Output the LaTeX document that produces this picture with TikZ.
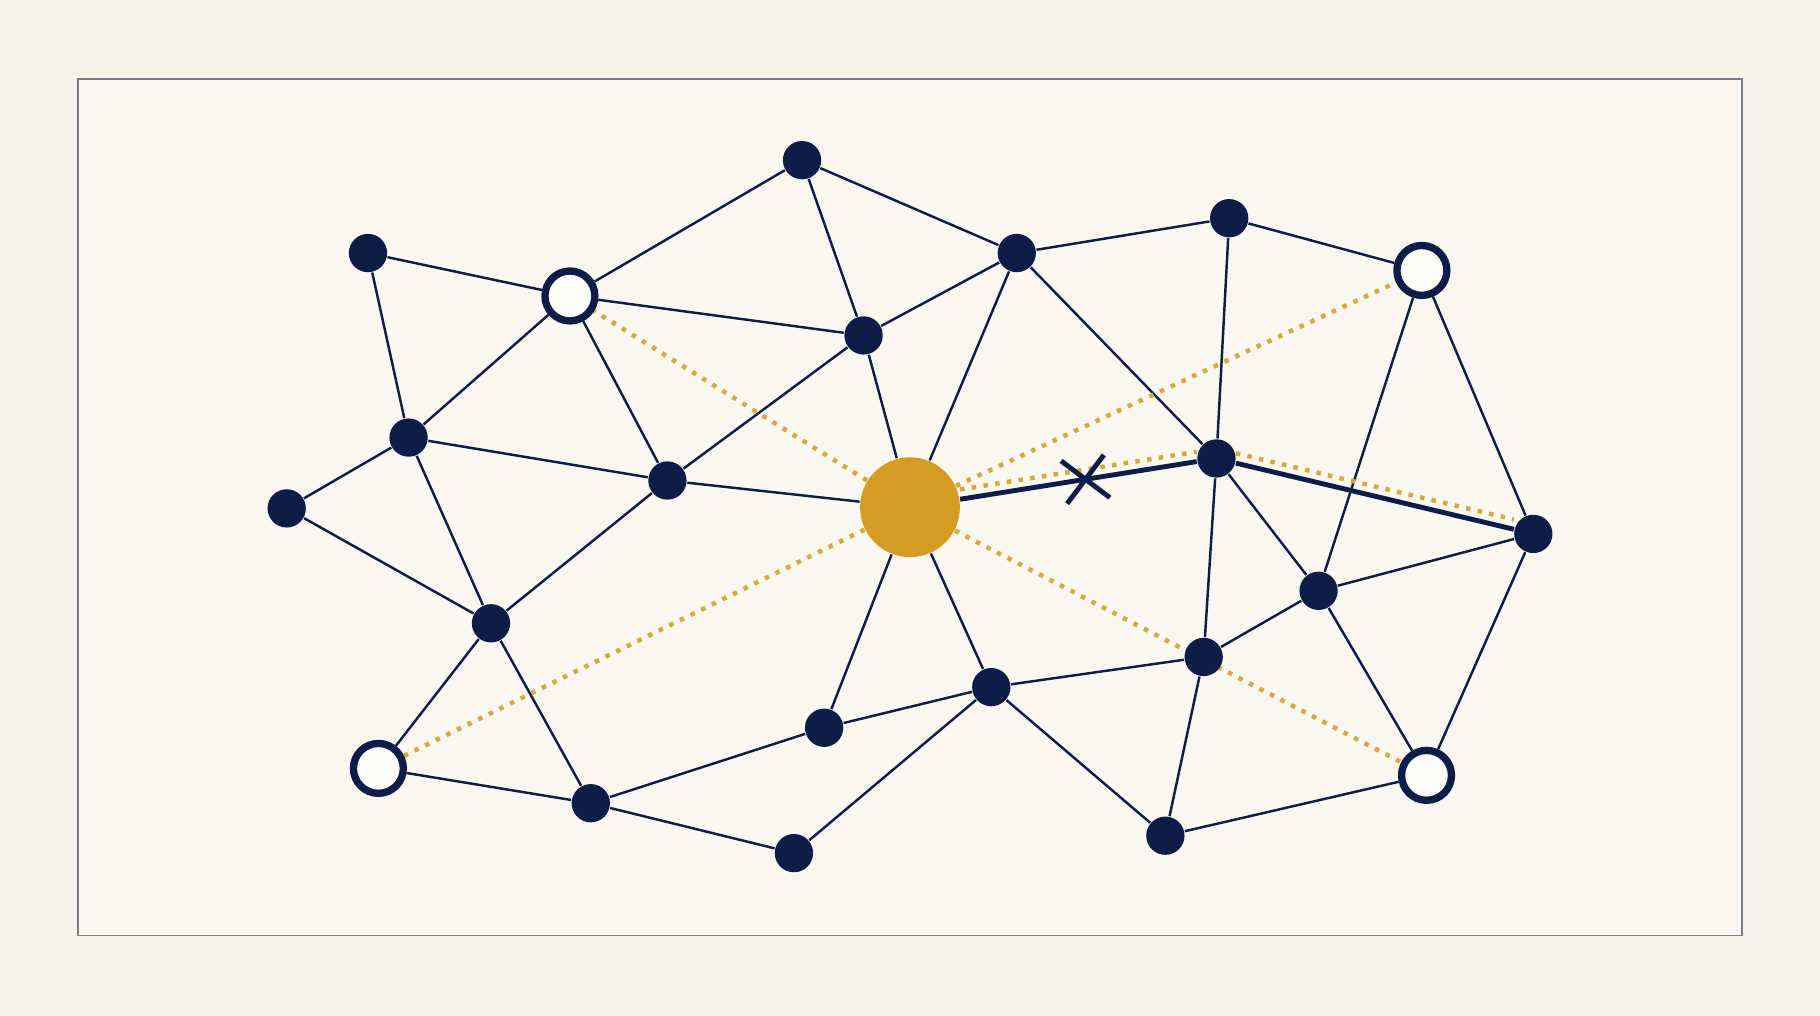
\documentclass[tikz,border=0pt]{standalone}
\usetikzlibrary{shapes.misc}
\definecolor{netnavy}{RGB}{14,28,72}
\definecolor{netgold}{RGB}{214,155,35}
\definecolor{netdot}{RGB}{218,167,60}
\definecolor{netpaper}{RGB}{247,243,234}
\definecolor{netpanel}{RGB}{250,247,240}
\definecolor{netframe}{RGB}{120,126,136}
\pgfdeclarelayer{paper}
\pgfdeclarelayer{wires}
\pgfsetlayers{paper,wires,main}

\begin{document}
\begin{tikzpicture}[
  peer/.style={circle,fill=netnavy,inner sep=0pt,minimum size=0.33cm},
  relay/.style={circle,draw=netnavy,line width=1.8pt,fill=white!60!netpanel,inner sep=0pt,minimum size=0.43cm},
  hubnode/.style={circle,fill=netgold,inner sep=0pt,minimum size=0.86cm},
  link/.style={netnavy,line width=0.6pt},
  route/.style={netnavy,line width=1.2pt},
  detour/.style={netdot,line width=1.1pt,dash pattern=on 1.1pt off 1.8pt},
  cutmark/.style={cross out,draw=netnavy,line width=1.2pt,inner sep=0pt,minimum size=0.33cm,rotate=8}]
  % --- paper and frame ---
  \begin{pgfonlayer}{paper}
    \fill[netpaper] (0,0) rectangle (15.68,8.75);
    \draw[netframe,fill=netpanel,line width=0.4pt] (0.67,0.69) rectangle (15.01,8.07);
  \end{pgfonlayer}
  % --- nodes ---
  \node[hubnode] (hub) at (7.84,4.38) {};
  \foreach \nm/\x/\y in {a/6.91/7.37, b/3.17/6.57, d/8.76/6.57, e/10.59/6.87,
      g/7.44/5.86, h/3.52/4.98, i/5.75/4.61, j/2.47/4.37, k/10.48/4.80,
      l/13.21/4.15, m/11.36/3.66, n/4.23/3.38, o/10.37/3.09, p/8.54/2.83,
      q/7.10/2.48, s/5.09/1.83, t/6.84/1.40, u/10.04/1.55}
    \node[peer] (\nm) at (\x,\y) {};
  \foreach \nm/\x/\y in {c/4.91/6.20, f/12.25/6.42, r/3.26/2.13, v/12.29/2.07}
    \node[relay] (\nm) at (\x,\y) {};
  \begin{pgfonlayer}{wires}
    % --- links ---
    \foreach \u/\v in {b/c, b/h, c/a, c/g, c/i, c/h, a/g, a/d, d/g, d/e, d/k, d/hub,
        e/f, e/k, f/l, f/m, g/i, g/hub, h/i, h/j, h/n, i/hub, i/n, j/n, n/r, n/s,
        hub/q, hub/p, k/m, k/o, m/l, m/o, l/v, m/v, o/p, o/u, p/q, p/t, p/u,
        q/s, r/s, s/t, u/v}
      \draw[link] (\u) -- (\v);
    % --- detours ---
    \foreach \v in {c,f,r,v}
      \draw[detour] (hub) -- (\v);
    \draw[detour,transform canvas={yshift=2.4pt}] (hub) -- (k) -- (l);
  \end{pgfonlayer}
  % --- broken route ---
  \draw[route] (hub) -- node[cutmark,pos=0.53] (cut) {} (k) -- (l);
\end{tikzpicture}
\end{document}
